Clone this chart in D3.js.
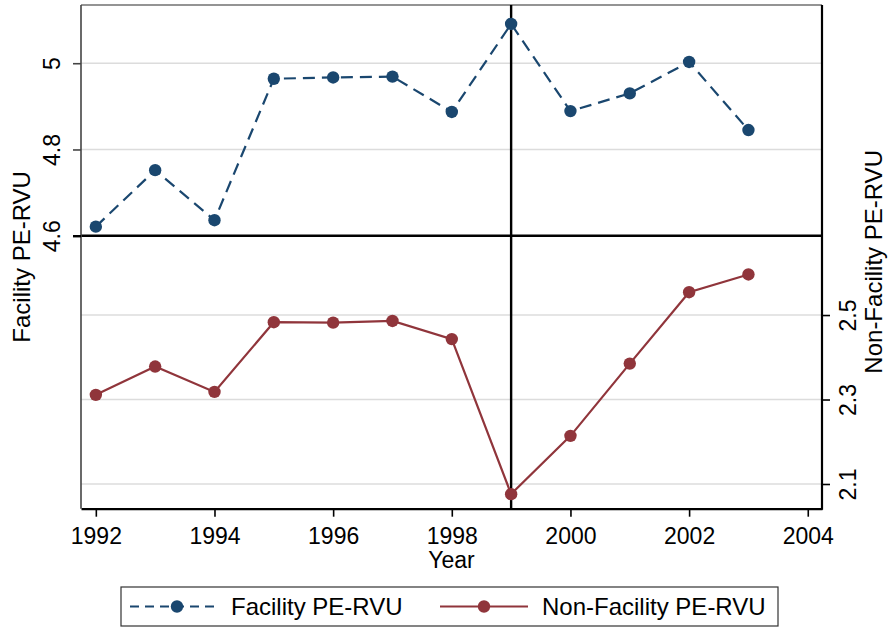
<!DOCTYPE html>
<html>
<head>
<meta charset="utf-8">
<script src="https://cdn.jsdelivr.net/npm/d3@7/dist/d3.min.js"></script>
<style>
  html, body { margin: 0; padding: 0; background: #fff; }
  svg { display: block; }
  text { font-family: "Liberation Sans", Arial, sans-serif; fill: #000; }
</style>
</head>
<body>
<svg id="chart" width="890" height="631"></svg>
<script>
// ---- data ----
const years = [1992, 1993, 1994, 1995, 1996, 1997, 1998, 1999, 2000, 2001, 2002, 2003];
const facility = [4.621, 4.752, 4.636, 4.964, 4.967, 4.969, 4.887, 5.091, 4.889, 4.930, 5.003, 4.845];
const nonFacility = [2.311, 2.378, 2.318, 2.483, 2.482, 2.486, 2.443, 2.076, 2.214, 2.385, 2.554, 2.596];
const xTicks = [1992, 1994, 1996, 1998, 2000, 2002, 2004];
const leftTicks = [4.6, 4.8, 5];
const rightTicks = [2.1, 2.3, 2.5];
const refYear = 1999;
const refFacility = 4.6;
const seriesNames = ["Facility PE-RVU", "Non-Facility PE-RVU"];

// ---- layout ----
const L = 81, R = 822, T = 5, B = 508.7;
const FS = 23, FT = 24;
const navy = "#1a476f", maroon = "#90353b", grid = "#dcdcdc";

const svg = d3.select("#chart");
svg.append("rect").attr("width", 890).attr("height", 631).attr("fill", "#fff");

const x = d3.scaleLinear().domain([1991.75, 2004.24]).range([L, R]);
const yL = d3.scaleLinear().domain([3.967, 5.135]).range([B, T]);
const yR = d3.scaleLinear().domain([2.0415, 3.234]).range([B, T]);

// gridlines
const g = svg.append("g");
g.selectAll(".gl").data(leftTicks.filter(v => v !== refFacility)).enter().append("line")
  .attr("x1", L).attr("x2", R).attr("y1", d => yL(d)).attr("y2", d => yL(d))
  .attr("stroke", grid).attr("stroke-width", 1.6);
g.selectAll(".gr").data(rightTicks).enter().append("line")
  .attr("x1", L).attr("x2", R).attr("y1", d => yR(d)).attr("y2", d => yR(d))
  .attr("stroke", grid).attr("stroke-width", 1.6);

// top border
svg.append("line").attr("x1", L).attr("x2", R).attr("y1", T).attr("y2", T)
  .attr("stroke", "#707070").attr("stroke-width", 1.6);

// reference lines
svg.append("line").attr("x1", L).attr("x2", R).attr("y1", yL(refFacility)).attr("y2", yL(refFacility))
  .attr("stroke", "#000").attr("stroke-width", 2.4);
svg.append("line").attr("x1", x(refYear)).attr("x2", x(refYear)).attr("y1", T).attr("y2", B)
  .attr("stroke", "#000").attr("stroke-width", 2.4);

// axes
function styleAxis(sel, color, w) {
  sel.select(".domain").attr("stroke", color).attr("stroke-width", w);
  sel.selectAll(".tick line").attr("stroke", color).attr("stroke-width", 1.6);
  sel.selectAll(".tick text").style("font-size", FS + "px").attr("fill", "#000")
    .style("font-family", '"Liberation Sans", Arial, sans-serif');
}

const ax = svg.append("g").attr("transform", `translate(0,${B})`)
  .call(d3.axisBottom(x).tickValues(xTicks).tickFormat(d3.format("d")).tickSize(8).tickSizeOuter(0));
styleAxis(ax, "#000", 2.2);
ax.selectAll(".tick text").attr("y", 0).attr("dy", 0).attr("transform", "translate(0,35)");

const al = svg.append("g").attr("transform", `translate(${L},0)`)
  .call(d3.axisLeft(yL).tickValues(leftTicks).tickFormat(d => d3.format("")(d)).tickSize(8).tickSizeOuter(0));
styleAxis(al, "#444", 1.6);
al.select(".domain").attr("d", `M0,${T}V${B}`);
al.selectAll(".tick text").attr("transform", "rotate(-90)").attr("x", 0).attr("y", -21)
  .attr("dy", 0).attr("text-anchor", "middle");
al.selectAll(".tick line").filter(d => d === refFacility).attr("stroke", "#000").attr("stroke-width", 2.4);

const ar = svg.append("g").attr("transform", `translate(${R},0)`)
  .call(d3.axisRight(yR).tickValues(rightTicks).tickFormat(d => d3.format("")(d)).tickSize(8).tickSizeOuter(0));
styleAxis(ar, "#000", 2.2);
ar.select(".domain").attr("d", `M0,${T}V${B + 1}`);
ar.selectAll(".tick text").attr("transform", "rotate(-90)").attr("x", 0).attr("y", 34)
  .attr("dy", 0).attr("text-anchor", "middle");

// axis titles
svg.append("text").attr("transform", `translate(30,${(T + B) / 2}) rotate(-90)`)
  .attr("text-anchor", "middle").style("font-size", FT + "px").text(seriesNames[0]);
svg.append("text").attr("transform", `translate(882,${(T + B) / 2 + 5}) rotate(-90)`)
  .attr("text-anchor", "middle").style("font-size", FT + "px").text(seriesNames[1]);
svg.append("text").attr("x", (L + R) / 2).attr("y", 568).attr("text-anchor", "middle")
  .style("font-size", FS + "px").text("Year");

// series
const lineF = d3.line().x((d, i) => x(years[i])).y(d => yL(d));
const lineN = d3.line().x((d, i) => x(years[i])).y(d => yR(d));

svg.append("path").datum(facility).attr("d", lineF).attr("fill", "none")
  .attr("stroke", navy).attr("stroke-width", 2.2).attr("stroke-dasharray", "12,7");
svg.append("path").datum(nonFacility).attr("d", lineN).attr("fill", "none")
  .attr("stroke", maroon).attr("stroke-width", 2.2);

svg.selectAll(".mf").data(facility).enter().append("circle")
  .attr("cx", (d, i) => x(years[i])).attr("cy", d => yL(d)).attr("r", 6.2).attr("fill", navy);
svg.selectAll(".mn").data(nonFacility).enter().append("circle")
  .attr("cx", (d, i) => x(years[i])).attr("cy", d => yR(d)).attr("r", 6.2).attr("fill", maroon);

// legend
const leg = svg.append("g");
leg.append("rect").attr("x", 121).attr("y", 587).attr("width", 657).attr("height", 39)
  .attr("fill", "#fff").attr("stroke", "#333").attr("stroke-width", 1.2);
const ly = 606.5;
leg.append("line").attr("x1", 130).attr("x2", 220).attr("y1", ly).attr("y2", ly)
  .attr("stroke", navy).attr("stroke-width", 2.2).attr("stroke-dasharray", "9,6");
leg.append("circle").attr("cx", 177).attr("cy", ly).attr("r", 6.2).attr("fill", navy);
leg.append("text").attr("x", 231).attr("y", ly + 8.5).style("font-size", FT + "px").text(seriesNames[0]);
leg.append("line").attr("x1", 440).attr("x2", 528).attr("y1", ly).attr("y2", ly)
  .attr("stroke", maroon).attr("stroke-width", 2.2);
leg.append("circle").attr("cx", 484).attr("cy", ly).attr("r", 6.2).attr("fill", maroon);
leg.append("text").attr("x", 542).attr("y", ly + 8.5).style("font-size", FT + "px").text(seriesNames[1]);
</script>
</body>
</html>
